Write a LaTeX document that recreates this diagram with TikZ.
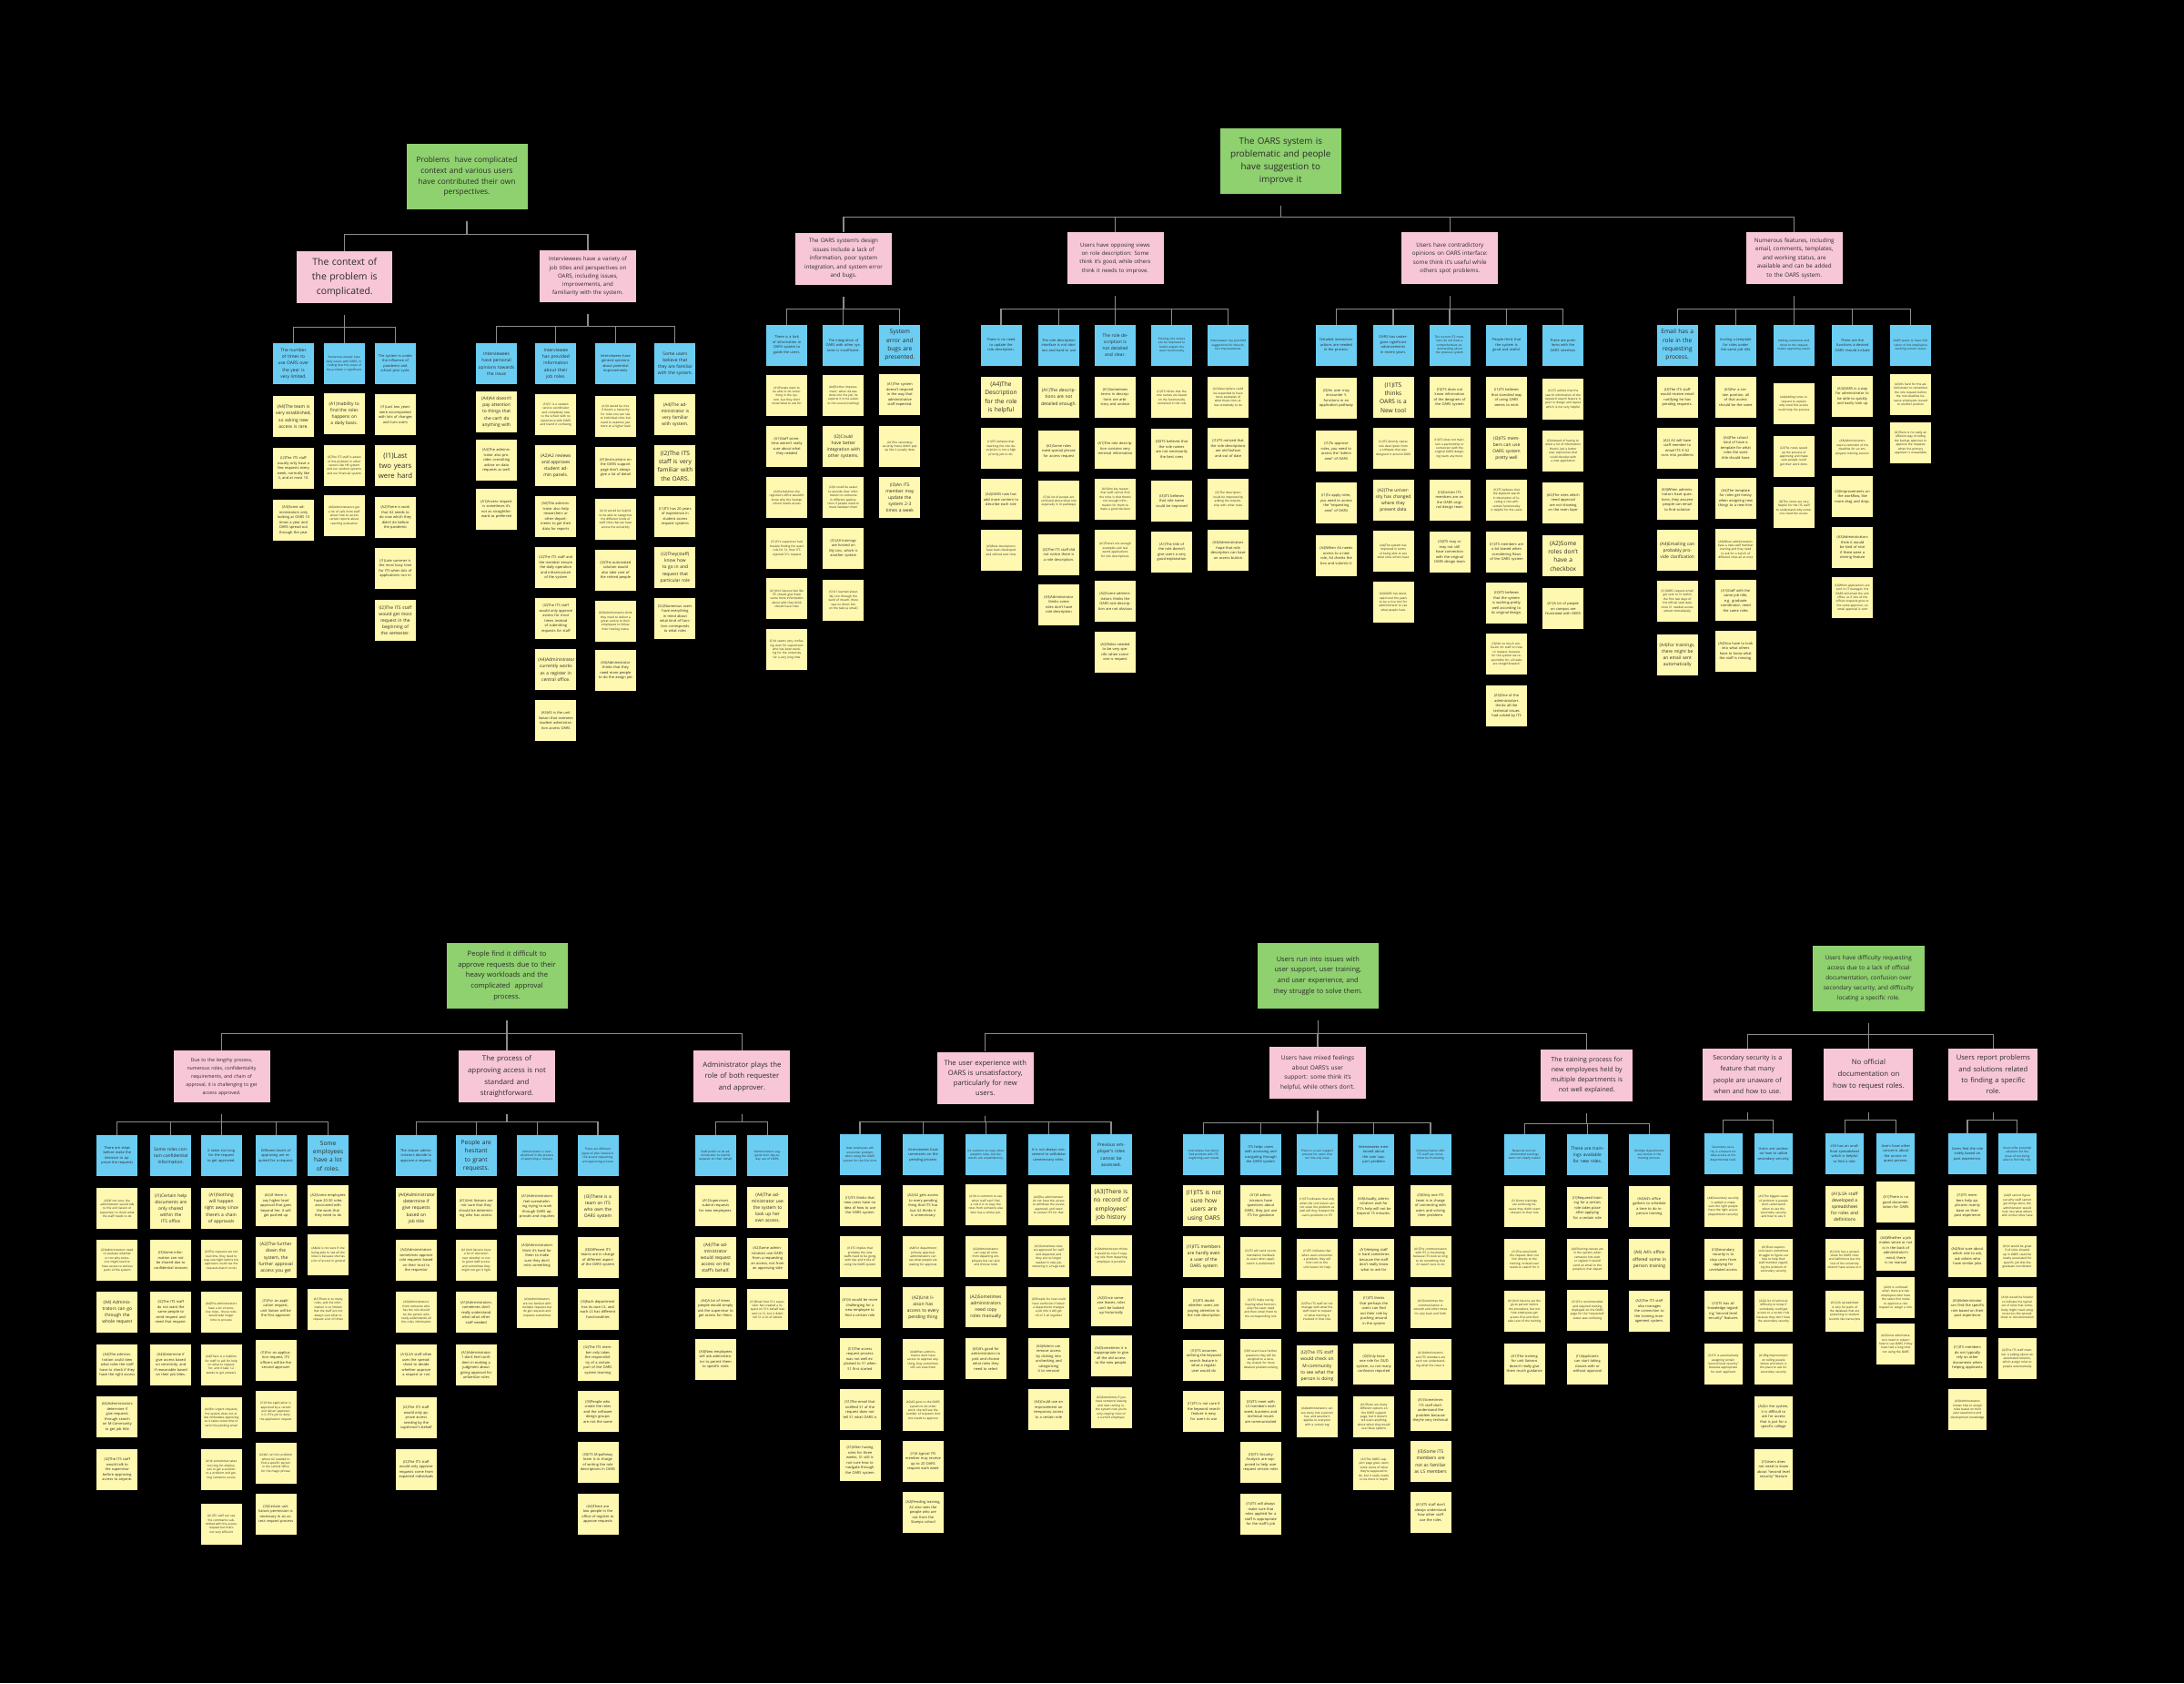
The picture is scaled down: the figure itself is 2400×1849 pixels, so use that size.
\documentclass[tikz,border=0pt]{standalone}
\usepackage{fontspec}
\setmainfont{Open Sans}
\usetikzlibrary{calc}
\definecolor{gfill}{HTML}{8FD06F}
\definecolor{pfill}{HTML}{F7C7D7}
\definecolor{bfill}{HTML}{6CCDF3}
\definecolor{yfill}{HTML}{FFF8B0}
\definecolor{txt}{HTML}{2A2A2A}
\definecolor{lin}{HTML}{8C8C8C}
\newcommand\fs[2]{\fontsize{#1}{#2}\selectfont}
\newcommand\Y[5]{\node[ybox,#1] (#2) at (#3,#4) {#5};}
\newcommand\B[5]{\node[bbox,#1] (#2) at (#3,#4) {#5};}
\newcommand\conn[3]{\draw[conn] ($(#1.south)+(0,13)$) -- ($(#1.south)+(0,#3)$) -| (#2.north);}
\tikzset{
  box/.style={anchor=north, align=center, inner sep=2pt, text=txt},
  gbox/.style={box, fill=gfill, minimum width=133pt, minimum height=72pt, text width=127pt},
  pbox/.style={box, fill=pfill, minimum width=106pt, minimum height=57pt, text width=101pt},
  bbox/.style={box, fill=bfill, minimum width=45pt, minimum height=45pt, text width=40pt, inner sep=1.5pt},
  ybox/.style={box, fill=yfill, minimum width=45pt, minimum height=45pt, text width=39pt, inner sep=1.5pt},
  nar/.style={minimum width=42pt, text width=37pt},
  yt/.style={font=\fs{3.2}{4.4}},
  ys/.style={font=\fs{3.9}{5.5}},
  ym/.style={font=\fs{4.9}{7.1}},
  yb/.style={font=\fs{6.6}{9.3}},
  yx/.style={font=\fs{7.8}{10.6}},
  conn/.style={draw=lin, line width=1.1pt}
}
\begin{document}
\begin{tikzpicture}[x=1pt,y=-1pt]
\fill[black] (0,0) rectangle (2400,1849);
\useasboundingbox (0,0) rectangle (2400,1849);

%================ TOP LEFT =================
\node[gbox, font=\fs{8.3}{11.7}] (g1) at (513,158) {Problems\ \ have complicated\\context and various users\\have contributed their own\\perspectives.};
\node[pbox, minimum width=103pt, font=\fs{10.4}{15.6}] (p1) at (378.8,276) {The context of\\the problem is\\complicated.};
\node[pbox, font=\fs{6.1}{9.3}] (p2) at (646,275) {Interviewees have a variety of\\job titles and perspectives on\\OARS, including issues,\\improvements, and\\familiarity with the system.};
\conn{g1}{p1}{27}\conn{g1}{p2}{27}

\B{ym}{tl1}{322.5}{377}{The number of times to use OARS over the year is very limited.}
\B{yt}{tl2}{378.3}{377}{Numerous people have daily issues with OARS, including that the scope of the problem is significant.}
\B{ys}{tl3}{434.5}{377}{The system is under the influence of pandemic and school year cycle.}
\B{ym}{tl4}{545.6}{377}{Interviewees have personal opinions towards the issue}
\B{ym}{tl5}{610.8}{377}{Interviewee has provided information about their job roles.}
\B{ys}{tl6}{676.4}{377}{Interviewees have general opinions about potential improvements}
\B{ym}{tl7}{741.9}{377}{Some users believe that they are familiar with the system.}
\foreach \c in {tl1,tl2,tl3}{\conn{p1}{\c}{26}}
\foreach \c in {tl4,tl5,tl6,tl7}{\conn{p2}{\c}{26}}

\Y{ym}{tl1n1}{322.5}{435}{(A4)The team is very established, so asking new access is rare.}
\Y{ys}{tl1n2}{322.5}{492}{(I2)The ITS staff usually only have a few requests every week, normally like 3, and at most 10.}
\Y{ys}{tl1n3}{322.5}{549}{(A3)Some administrators only looking at OARS 10 times a year and OARS spread out through the year}
\Y{ym}{tl2n1}{378.3}{432}{(A1)Inability to find the roles happens on a daily basis.}
\Y{yt}{tl2n2}{378.3}{489}{(I2)The ITS staff is aware of the problem in other sectors like HR system and our student systems and our financial system}
\Y{yt}{tl2n3}{378.3}{544}{(A6)Administrators get a lot of calls from staff about how to access certain reports about teaching evaluation}
\Y{ys}{tl3n1}{434.5}{433}{(I1)Last two years were accompanied with lots of changes and turn overs}
\Y{yx}{tl3n2}{434.5}{489}{(I1)Last two years were hard}
\Y{ys}{tl3n3}{434.5}{546}{(A2)There is work that A2 needs to do now which they didn't do before the pandemic}
\Y{ys}{tl3n4}{434.5}{602}{(I1)Late summer is the most busy time for ITS when lots of applications run in}
\Y{ym}{tl3n5}{434.5}{659}{(I2)The ITS staff would get most request in the beginning of the semester.}
\Y{ym}{tl4n1}{545.6}{430}{(A4)A4 doesn't pay attention to things that she can't do anything with}
\Y{ys}{tl4n2}{545.6}{483}{(A4)The administrator also provides consulting advice on data requests as well.}
\Y{ys}{tl4n3}{545.6}{537}{(A1)Access request is sometimes it's not as straightforward as preferred}
\Y{yt}{tl5n1}{610.8}{433}{(S1)S1 is a student service coordinator and completely new to the school with no experience with OARS and found it confusing}
\Y{ym}{tl5n2}{610.8}{489}{(A2)A2 reviews and approves student admin panels.}
\Y{ys}{tl5n3}{610.8}{545}{(A6)The administrator also help researchers or other departments to get their data for reports}
\Y{ys}{tl5n4}{610.8}{601}{(I2)The ITS staff and the member ensure the daily operation and infrastructure of the system}
\Y{ys}{tl5n5}{610.8}{657}{(I2)The ITS staff would only approve access for most times instead of submitting requests for staff}
\Y{ym}{tl5n6}{610.8}{713}{(A4)Administrator currently works as a register in central office.}
\Y{ys}{tl5n7}{610.8}{769}{(A5)A5 is the unit liaison that oversees student administration access OARS}
\Y{yt}{tl6n1}{676.4}{435}{(A1)It would be nice if there's a hierarchy for roles one can see at individual roles but need to examine just more at a higher level}
\Y{ys}{tl6n2}{676.4}{491}{(A1)Instructions on the OARS support page don't always give a lot of detail}
\Y{yt}{tl6n3}{676.4}{548}{(A1)It would be helpful to be able to categorize the different kinds of staff roles that we have across the university}
\Y{ys}{tl6n4}{676.4}{604}{(I2)The automated solution would also take care of the retired people}
\Y{yt}{tl6n5}{676.4}{660}{(A5)Administrators think they need to deliver a great service to their employees to follow their training status}
\Y{ys}{tl6n6}{676.4}{714}{(A3)Administrator thinks that they need more people to do the assign job}
\Y{ym}{tl7n1}{741.9}{433}{(A4)The administrator is very familiar with system.}
\Y{yb}{tl7n2}{741.9}{489}{(I2)The ITS staff is very familiar with the OARS.}
\Y{ys}{tl7n3}{741.9}{545}{(I1)ITS has 20 years of experience in student access request systems}
\Y{ym}{tl7n4}{741.9}{601}{(I2)They(staff) know how to go in and request that particular role}
\Y{ys}{tl7n5}{741.9}{657}{(S2)Numerous users have everything in mind about what kind of function corresponds to what roles}

%================ TOP RIGHT =================
\node[gbox, font=\fs{9.8}{14}] (g2) at (1407.3,140.3) {The OARS system is\\problematic and people\\have suggestion to\\improve it};
\node[pbox, font=\fs{6.2}{9.4}] (pa) at (927,255.3) {The OARS system's design\\issues include a lack of\\information, poor system\\integration, and system error\\and bugs.};
\node[pbox, font=\fs{6}{9.4}] (pb) at (1225.5,255) {Users have opposing views\\on role description: Some\\think it's good, while others\\think it needs to improve.};
\node[pbox, font=\fs{6.3}{9.4}] (pc) at (1593.3,255) {Users have contradictory\\opinions on OARS interface:\\some think it's useful while\\others spot problems.};
\node[pbox, font=\fs{6.3}{9.4}] (pd) at (1971.7,255) {Numerous features, including\\email, comments, templates,\\and working status, are\\available and can be added\\to the OARS system.};
\foreach \c in {pa,pb,pc,pd}{\conn{g2}{\c}{26}}

\B{ys}{a1}{864.6}{356.5}{There is a lack of information in OARS system to guide the users.}
\B{ys}{a2}{926.8}{356.5}{The integration of OARS with other systems is insufficient.}
\B{yb}{a3}{988.8}{356.5}{System error and bugs are presented.}
\B{ys}{b1}{1100}{356.5}{There is no need to update the role description.}
\B{ys}{b2}{1163.5}{356.5}{The role description interface is not obvious and hard to use}
\B{ym}{b3}{1225.5}{356.5}{The role description is not detailed and clear.}
\B{yt}{b4}{1287.6}{356.5}{Existing role names can be improved to better explain the users functionality}
\B{yt}{b5}{1349.6}{356.5}{Interviewees has provided suggestions for description improvements.}
\B{ys}{c1}{1468.4}{356.5}{Detailed interaction actions are needed in the process.}
\B{ys}{c2}{1531}{356.5}{OARS has undergone significant advancements in recent years.}
\B{yt}{c3}{1593}{356.5}{The current ITS members do not have a comprehensive understanding about the previous system}
\B{ys}{c4}{1655.5}{356.5}{People think that the system is good and useful.}
\B{ys}{c5}{1717.7}{356.5}{There are problems with the OARS interface.}
\B{yb}{d1}{1843.2}{356.5}{Email has a role in the requesting process.}
\B{ys}{d2}{1907.3}{356.5}{Inviting a template for roles under the same job title}
\B{yt}{d3}{1971.2}{356.5}{Adding comments and notes to the request makes approving easier}
\B{ys}{d4}{2035.6}{356.5}{There are the functions a desired OARS should include}
\B{yt}{d5}{2099.6}{356.5}{OARS wants to have indication of the employee's working current status}
\foreach \c in {a1,a2,a3}{\conn{pa}{\c}{27}}
\foreach \c in {b1,b2,b3,b4,b5}{\conn{pb}{\c}{27}}
\foreach \c in {c1,c2,c3,c4,c5}{\conn{pc}{\c}{27}}
\foreach \c in {d1,d2,d3,d4,d5}{\conn{pd}{\c}{27}}

\Y{yt}{a1n1}{864.6}{412}{(A1)People want to be able to do something in the system, but they don't know what to ask for}
\Y{ys}{a1n2}{864.6}{468}{(A1)Staff sometime weren't really sure about what they needed}
\Y{yt}{a1n3}{864.6}{524}{(A2)Sometimes the registrar's office wouldn't know why the Stamps school needs access}
\Y{yt}{a1n4}{864.6}{580}{(S1)S1's supervisor had trouble finding the exact role for S1, then ITS rejected S1's request}
\Y{yt}{a1n5}{864.6}{635}{(A1)Unit liaisons feel like ITS should give them some more information about who they think should have roles}
\Y{yt}{a1n6}{864.6}{691}{(S1)It seems very confusing even for supervisors who has been working for the university for a very long time}
\Y{yt}{a2n1}{926.8}{412}{(A4)Further improvement: when A4 was done into the job, he expects it to be easier to the course (training)}
\Y{ym}{a2n2}{926.8}{468}{(I2)Could have better integration with other systems.}
\Y{yt}{a2n3}{926.8}{524}{(I2)It could be easier to provide clear information to someone in different applications if people need to move between them}
\Y{ys}{a2n4}{926.8}{580}{(S1)All trainings are hosted on My Linc, which is another system}
\Y{yt}{a2n5}{926.8}{637}{(S1)S1 learned about My Linc through the word of mouth, there was no direct link on the tabs (a email)}
\Y{ys}{a3n1}{988.8}{411}{(A1)The system doesn't respond in the way that administrative staff expected.}
\Y{yt}{a3n2}{988.8}{468}{(A1)The secondary security menu didn't pop up like it usually does}
\Y{ym}{a3n3}{988.8}{524}{(I3)An ITS member may update the system 2-3 times a week}
\Y{yb}{b1n1}{1100}{414}{(A4)The Description for the role is helpful}
\Y{yt}{b1n2}{1100}{470}{(I1)ITS believes that rewriting the role description is not a high priority job to do.}
\Y{ys}{b1n3}{1100}{526}{(A2)OARS now has add more content to describe each role}
\Y{yt}{b1n4}{1100}{582}{(A3)Role descriptions have been developed and refined over time}
\Y{ym}{b2n1}{1163.5}{414}{(A1)The descriptions are not detailed enough.}
\Y{ys}{b2n2}{1163.5}{473}{(A2)Some roles need special phrase for access request}
\Y{yt}{b2n3}{1163.5}{528}{(S1)A lot of people are confused about what role especially in IU pathways}
\Y{ys}{b2n4}{1163.5}{587}{(I2)The ITS staff did not notice there is a role description.}
\Y{ys}{b2n5}{1163.5}{642}{(A3)Administrator thinks some roles don't have role description}
\Y{ys}{b3n1}{1225.5}{414}{(A1)Sometimes terms in descriptions are arbitrary and unclear}
\Y{ys}{b3n2}{1225.5}{470}{(A1)The role description contains very minimal information}
\Y{yt}{b3n3}{1225.5}{526}{(A1)One key reason that staff cannot find the roles is that there's not enough information for them to make a good decision}
\Y{yt}{b3n4}{1225.5}{582}{(A1)There's not enough examples and real world applications for role descriptions.}
\Y{ys}{b3n5}{1225.5}{638}{(A2)Some administrators thinks the OARS role description are not obvious}
\Y{ys}{b3n6}{1225.5}{694}{(A2)Roles needed to be very specific when someone is request}
\Y{yt}{b4n1}{1287.6}{414}{(I1)ITS thinks that the role names are based on the functionality contained in the role}
\Y{ys}{b4n2}{1287.6}{471}{(I3)ITS believes that the role names are not necessarily the best ones}
\Y{ys}{b4n3}{1287.6}{528}{(I3)ITS believes that role name could be improved}
\Y{ys}{b4n4}{1287.6}{584}{(A1)The title of the role doesn't give users a very good explanation}
\Y{yt}{b5n1}{1349.6}{414}{(A1)Descriptions could be expanded to have more examples of what these roles allow somebody to do}
\Y{ys}{b5n2}{1349.6}{470}{(I1)ITS noticed that the role descriptions are old fashion and out of date}
\Y{yt}{b5n3}{1349.6}{526}{(I2)The description could be improved by adding the relationship with other roles}
\Y{ys}{b5n4}{1349.6}{582}{(A3)Administrators hope that role description can have an access button}
\Y{ys}{c1n1}{1468.4}{415}{(I3)An user may encounter 5 functions in an application pathway}
\Y{ys}{c1n2}{1468.4}{473}{(I1)To approve roles, you need to access the ``admin area'' of OARS}
\Y{ys}{c1n3}{1468.4}{530}{(I1)To apply roles, you need to access the ``requesting area'' of OARS}
\Y{ys}{c1n4}{1468.4}{588}{(A4)When A4 needs access to a new role, A4 checks the box and submits it}
\Y{yb}{c2n1}{1531}{414}{(I1)ITS thinks OARS is a New tool}
\Y{yt}{c2n2}{1531}{470}{(I1)ITS directly copies role description from a software that was designed in around 2000}
\Y{ym}{c2n3}{1531}{527}{(A2)The university has changed where they present data}
\Y{yt}{c2n4}{1531}{583}{(A4)The system has improved in terms of being able to see what roles others have}
\Y{yt}{c2n5}{1531}{639}{(A3)OARS has developed over the years to be a nice tool for administrator to see what people have}
\Y{ys}{c3n1}{1593}{414}{(I1)ITS does not know information of the designers of the OARS system}
\Y{yt}{c3n2}{1593}{470}{(I1)ITS does not maintain a partnership or connection with the original OARS designing team any more}
\Y{ys}{c3n3}{1593}{527}{(I3)Certain ITS members are on the OARS original design team}
\Y{ys}{c3n4}{1593}{584}{(I3)ITS may or may not still have connection with the original OARS design team}
\Y{ys}{c4n1}{1655.5}{414}{(I1)ITS believes that standard way of using OARS seems to exist}
\Y{ym}{c4n2}{1655.5}{470}{(I3)ITS members can use OARS system pretty well}
\Y{yt}{c4n3}{1655.5}{527}{(I1)ITS believes that the keyword search in description of locating a role with certain functionality is helpful for the users}
\Y{ys}{c4n4}{1655.5}{584}{(I1)ITS members are a bit biased when considering flaws of the OARS system}
\Y{ys}{c4n5}{1655.5}{640}{(I3)ITS believes that the system is working pretty well according to its original design.}
\Y{yt}{c4n6}{1655.5}{696}{(I2)Not so much confusion for staff on how to request, because for the system we responsible for, all tasks are straightforward.}
\Y{ys}{c4n7}{1655.5}{753}{(A3)One of the administrators thinks all the technical issues had solved by ITS}
\Y{yt}{c5n1}{1717.7}{416}{(I1)ITS admits that the search information of the keyword search feature is poor in design and layout which is not very helpful}
\Y{yt}{c5n2}{1717.7}{473}{(I3)Instead of having to enter a lot of information there's just a better user experience that could develop with a new application}
\Y{ys}{c5n3}{1717.7}{530}{(A2)The roles which need approval are not showing on the main layer}
\Y{yb}{c5n4}{1717.7}{588}{(A2)Some roles don't have a checkbox}
\Y{ys}{c5n5}{1717.7}{646}{(A1)A lot of people on campus are frustrated with OARS}
\Y{ys}{d1n1}{1843.2}{414}{(I2)The ITS staff would receive email notifying he has pending requests.}
\Y{ys}{d1n2}{1843.2}{470}{(A2) A2 will have staff member to email ITS if A2 runs into problems}
\Y{ys}{d1n3}{1843.2}{526}{(A3)When administrators have questions, they assume people can email to find solution}
\Y{ym}{d1n4}{1843.2}{582}{(A4)Emailing can probably provide clarification}
\Y{yt}{d1n5}{1843.2}{638}{(S1)OARS request email got sent to S1 within the first two days of the official start date since S1 needed access almost immediately}
\Y{ym}{d1n6}{1843.2}{697}{(A4)For trainings, there might be an email sent automatically}
\Y{ys}{d2n1}{1907.3}{414}{(A3)For a certain position, all of that access should be the same}
\Y{ys}{d2n2}{1907.3}{469}{(A4)The school kind of have a template for what roles the work title should have}
\Y{ys}{d2n3}{1907.3}{525}{(A4)The template for roles get messy when assigning new things to a new hire.}
\Y{yt}{d2n4}{1907.3}{581}{(A2)When administrators have a new staff member starting and they need to ask for a bunch of different roles all at once}
\Y{ys}{d2n5}{1907.3}{637}{(A1)Staff with the same job title, e.g. graduate coordinator, need the same roles}
\Y{ys}{d2n6}{1907.3}{693}{(A4)You have to look into what others have to know what the staff is missing.}
\Y{yt}{d3n1}{1971.2}{421}{(A4)Adding notes to request to explain why need this access could help the process}
\Y{yt}{d3n2}{1971.2}{479}{(I2)The notes speed up the process of approving and make sure people could get their work done}
\Y{yt}{d3n3}{1971.2}{535}{(I2)The notes are very helpful for the ITS staff to understand why someone need the access}
\Y{ys}{d4n1}{2035.6}{413}{(A3)OARS is a way for administrator to be able to quickly and easily look up}
\Y{yt}{d4n2}{2035.6}{469}{(A3)Administrators need a reminder of the deadline for an employee's training session}
\Y{ys}{d4n3}{2035.6}{523}{(I2)Improvements on the workflow, like more drag and drop.}
\Y{ys}{d4n4}{2035.6}{579}{(A3)Administrators think it would be kind of nice if there were a cloning feature}
\Y{yt}{d4n5}{2035.6}{634}{(I2)When applications are sent to IT manager, the OARS will email the unit office, so if one of the offices requests goes to the same approver, an email approval is sent}
\Y{yt}{d5n1}{2099.6}{411}{(A3)It's hard for the administrator to remember the role request before the role deadline because employees moved to another position}
\Y{yt}{d5n2}{2099.6}{464}{(I2)There is no really an efficient way of telling the backup approver to approve the requests when the primary approver is unavailable}

%================ BOTTOM LEFT =================
\node[gbox, font=\fs{7.6}{11.8}] (g3) at (557,1035.7) {People find it difficult to\\approve requests due to their\\heavy workloads and the\\complicated\ \ approval\\process.};
\node[pbox, font=\fs{5.2}{9}] (e1) at (243.5,1154) {Due to the lengthy process,\\numerous roles, confidentiality\\requirements, and chain of\\approval, it is challenging to get\\access approved.};
\node[pbox, font=\fs{7.8}{12.6}] (e2) at (557,1154) {The process of\\approving access is not\\standard and\\straightforward.};
\node[pbox, font=\fs{7.8}{12.6}] (e3) at (815.4,1154) {Administrator plays the\\role of both requester\\and approver.};
\foreach \c in {e1,e2,e3}{\conn{g3}{\c}{27}}

\B{ys}{e1a}{128.8}{1247}{There are steps before make the decision to approve the requests}
\B{ym}{e1b}{187.7}{1247}{Some roles contain confidential information.}
\B{ys}{e1c}{243.2}{1247}{It takes too long for the request to get approved.}
\B{ys}{e1d}{303.1}{1247}{Different levels of approving are required for a request.}
\B{yb}{e1e}{360.6}{1247}{Some employees have a lot of roles.}
\B{ys}{e2a}{457.4}{1247}{The reason administrators decide to approve a request.}
\B{yb}{e2b}{523.2}{1247}{People are hesitant to grant requests.}
\B{yt}{e2c}{590.2}{1247}{Administrator is overwhelmed in the process of approving a request.}
\B{yt}{e2d}{657}{1247}{There are different types of jobs involve in the access requesting and approving process}
\B{yt}{e3a}{786.4}{1247}{Staff prefer to let administrator to submit requests on their behalf.}
\B{yt}{e3b}{843.4}{1247}{Administrators suggests their day-to-day use of OARS.}
\foreach \c in {e1a,e1b,e1c,e1d,e1e}{\conn{e1}{\c}{21}}
\foreach \c in {e2a,e2b,e2c,e2d}{\conn{e2}{\c}{21}}
\foreach \c in {e3a,e3b}{\conn{e3}{\c}{21}}

\Y{yt}{e1an1}{128.8}{1305}{(A3)If not sure, the administrator would talk to the unit liaison or supervisor to check what the staff needs to do}
\Y{yt}{e1an2}{128.8}{1362}{(I2)Administrators need to evaluate whether or not why someone might need to have access to various parts of the system}
\Y{ym}{e1an3}{128.8}{1419}{(A4) Administrators can go through the whole request}
\Y{ys}{e1an4}{128.8}{1477}{(A4)The administration could view what roles the staff have to check if they have the right access}
\Y{ys}{e1an5}{128.8}{1534}{(A4)Administrators determine if give requests through search on M-Community to get job title}
\Y{ys}{e1an6}{128.8}{1592}{(I2)The ITS staff would talk to the supervisor before approving access to anyone.}
\Y{ym}{e1bn1}{187.7}{1305}{(I1)Certain help documents are only shared within the ITS office}
\Y{ys}{e1bn2}{187.7}{1362}{(I3)Some information can not be shared due to confidential reasons}
\Y{ys}{e1bn3}{187.7}{1419}{(I2)The ITS staff do not want the same people to send request and need that request.}
\Y{ys}{e1bn4}{187.7}{1477}{(A4)Determine if give access based on sensitivity, and if reasonable based on their job titles.}
\Y{ym}{e1cn1}{243.2}{1305}{(A1)Nothing will happen right away since there's a chain of approvals}
\Y{yt}{e1cn2}{243.2}{1362}{(I2)The requests are not real time, they need to stay overnight before the approvers could see the requests (batch circle)}
\Y{yt}{e1cn3}{243.2}{1419}{(A4)The administrators have a lot of sensitive roles - those roles would take longer time to process}
\Y{yt}{e1cn4}{243.2}{1477}{(A4)There is a helpline for staff to ask for help on what to request for, and it take 1-2 weeks to get answers}
\Y{yt}{e1cn5}{243.2}{1535}{(A4)For urgent requests, the system does not allow immediate approving so it takes some time to send the pending email}
\Y{yt}{e1cn6}{243.2}{1592}{(A1)It sometimes takes too long for employees to get a solution to a problem and getting someone access}
\Y{yt}{e1cn7}{243.2}{1652}{(A1)ITS staff can see the comments submitted with the access request but that's not very efficient}
\Y{ys}{e1dn1}{303.1}{1302}{(A2)If there is any higher level approval that goes beyond her, it will get pushed up}
\Y{ym}{e1dn2}{303.1}{1359}{(A2)The further down the system, the further approval access you get}
\Y{ys}{e1dn3}{303.1}{1415}{(I1)For an application request, unit liaison will be the first approver}
\Y{ys}{e1dn4}{303.1}{1472}{(I1)For an application request, ITS officers will be the second approver}
\Y{yt}{e1dn5}{303.1}{1528}{(I1)If the application is approved by a certain unit liaison approver, it is ITS's job to deny the application request}
\Y{yt}{e1dn6}{303.1}{1585}{(A2)A2 ran into problem where A2 needed to find a specific person in the central office for the magic phrase}
\Y{ys}{e1dn7}{303.1}{1641}{(I3)Certain unit liaison permission is necessary in an access request process}
\Y{ys}{e1en1}{360.6}{1302}{(A2)Some employees have 20-30 roles associated with the work that they need to do}
\Y{yt}{e1en2}{360.6}{1356}{(A4)A4 is not sure if she being able to see all the roles is because she has a lot of access in general}
\Y{yt}{e1en3}{360.6}{1416}{(A1)There is so many roles, and the information is so limited that the staff are not always sure what to request a lot of times}
\Y{ym}{e2an1}{457.4}{1305}{(A4)Administrator determine if give requests based on job title}
\Y{ys}{e2an2}{457.4}{1362}{(A2)Administrators sometimes approve role requests based on their trust to the requestor}
\Y{yt}{e2an3}{457.4}{1419}{(A2)Administrators think someone who has the role should be the person who really understands all this roles information}
\Y{ys}{e2an4}{457.4}{1477}{(A1)LSA staff often uses the spreadsheet to decide whether approve a request or not}
\Y{ys}{e2an5}{457.4}{1535}{(I2)The ITS staff would only approve access sending by the supervisor's behalf}
\Y{ys}{e2an6}{457.4}{1592}{(I2)The ITS staff would only approve requests come from expected individuals}
\Y{ys}{e2bn1}{523.2}{1305}{(A1)Unit liaisons are not sure that they should be determining who has access.}
\Y{yt}{e2bn2}{523.2}{1362}{(A1)Unit liaisons have a lot of discretion over whether or not to grant staff access and sometimes they might not get it right}
\Y{ys}{e2bn3}{523.2}{1419}{(A1)Administrators sometimes don't really understand what what other staff needed}
\Y{ys}{e2bn4}{523.2}{1477}{(A1)Administrator 1 don't feel confident in making a judgment about giving approval for unfamiliar roles}
\Y{ys}{e2cn1}{590.2}{1303}{(A1)Administrators feel overwhelming trying to work through OARS approvals and inquiries}
\Y{ys}{e2cn2}{590.2}{1357}{(A3)Administrators think it's hard for them to make sure they don't miss something}
\Y{yt}{e2cn3}{590.2}{1414}{(A3)Administrators are not familiar with multiple requests but do get requests and requests sometimes}
\Y{ym}{e2dn1}{657}{1303}{(I3)There is a team on ITS who own the OARS system}
\Y{ys}{e2dn2}{657}{1359}{(I3)Different ITS teams are in charge of different aspect of the OARS system}
\Y{ys}{e2dn3}{657}{1416}{(I3)Each department has its own LS, and each LS has different functionalities}
\Y{ys}{e2dn4}{657}{1472}{(I2)The ITS member only takes the responsibility of a certain part of the OARS system learning}
\Y{ys}{e2dn5}{657}{1528}{(I3)People who create the roles and the software design groups are not the same}
\Y{ys}{e2dn6}{657}{1584}{(I3)ITS M-pathway team is in charge of writing the role descriptions in OARS}
\Y{ys}{e2dn7}{657}{1641}{(A4)There are two people in the office of register to approve requests}
\Y{ys}{e3an1}{786.4}{1302}{(A1)Supervisors submit requests for new employees.}
\Y{ym}{e3an2}{786.4}{1359}{(A4)The administrator would request access on the staff's behalf.}
\Y{ys}{e3an3}{786.4}{1415}{(A4)A lot of times people would simply ask the supervisor to get access for them.}
\Y{ys}{e3an4}{786.4}{1471}{(A3)New employees will ask administrator to permit them to specific roles}
\Y{ym}{e3bn1}{843.4}{1304}{(A4)The administrator use the system to look up her own access.}
\Y{ys}{e3bn2}{843.4}{1360}{(A2)Some administrators use OARS from a requesting an access, not from an approving side}
\Y{yt}{e3bn3}{843.4}{1416}{(S1)Email that S1's supervisor has created a request on S1's behalf was sent to S1, but it didn't tell S1 a lot of details}

%================ BOTTOM MIDDLE =================
\node[gbox, font=\fs{7.4}{11.8}] (g4) at (1448.3,1035.7) {Users run into issues with\\user support, user training,\\and user experience, and\\they struggle to solve them.};
\node[pbox, font=\fs{7.6}{11}] (f1) at (1082.8,1155.3) {The user experience with\\OARS is unsatisfactory,\\particularly for new\\users.};
\node[pbox, font=\fs{6.5}{10.6}] (f2) at (1448,1150) {Users have mixed feelings\\about OARS's user\\support: some think it's\\helpful, while others don't.};
\node[pbox, minimum width=101pt, text width=97pt, font=\fs{7}{11.1}] (f3) at (1743.8,1152.7) {The training process for\\new employees held by\\multiple departments is\\not well explained.};
\foreach \c in {f1,f2,f3}{\conn{g4}{\c}{27}}

\B{yt}{f1a}{945}{1246}{New employees will encounter problem when using the OARS system for the first time}
\B{ys}{f1b}{1014.4}{1246}{Interviewees have comments on the pending process}
\B{yt}{f1c}{1083.3}{1246}{It's common to copy other people's roles, but the results are unsatisfactory.}
\B{ys}{f1d}{1152.3}{1246}{It is not always convenient to withdraw unnecessary roles.}
\B{ym}{f1e}{1221}{1246}{Previous employer's roles cannot be accessed.}
\B{yt}{f2a}{1322.8}{1246}{Interviewee has identified problem with ITS neglecting user needs}
\B{ys}{f2b}{1385.4}{1246}{ITS helps users with accessing and navigating through the OARS system}
\B{yt}{f2c}{1447.4}{1246}{There is a user support process for users that run into any issue}
\B{ys}{f2d}{1509.7}{1246}{Interviewees mentioned about the user support problem}
\B{yt}{f2e}{1572}{1246}{Communication with ITS staff can sometimes be frustrating}
\B{yt}{f3a}{1675.2}{1246}{Required and recommended trainings were not clearly stated}
\B{ym}{f3b}{1744.4}{1246}{There are trainings available for new roles.}
\B{yt}{f3c}{1812.4}{1246}{Multiple departments are involve in the training process.}
\foreach \c in {f1a,f1b,f1c,f1d,f1e}{\conn{f1}{\c}{20}}
\foreach \c in {f2a,f2b,f2c,f2d,f2e}{\conn{f2}{\c}{26}}
\foreach \c in {f3a,f3b,f3c}{\conn{f3}{\c}{24}}

\Y{ys}{f1an1}{945}{1302}{(I1)ITS thinks that new users have no idea of how to use the OARS system}
\Y{yt}{f1an2}{945}{1358}{(I1)ITS implies that probably the new staffs need to be going with tips and tricks of using the OARS system}
\Y{ys}{f1an3}{945}{1414}{(A1)It would be more challenging for a new employee to find a certain role}
\Y{ys}{f1an4}{945}{1470}{(S1)The access request process was not well explained to S1 when S1 first started}
\Y{ys}{f1an5}{945}{1526}{(S1)The email that notified S1 of the request does not tell S1 what OARS is}
\Y{ys}{f1an6}{945}{1582}{(S1)After having roles for three weeks, S1 still is not sure how to navigate through the OARS system}
\Y{ys}{f1bn1}{1014.4}{1302}{(A2)A2 gets access to every pending thing that ITS has but A2 thinks it is unnecessary}
\Y{yt}{f1bn2}{1014.4}{1358}{(A4)For department primary approval, administrators can see what people are waiting for approval}
\Y{ym}{f1bn3}{1014.4}{1414}{(A2)Unit liaison has access to every pending thing}
\Y{yt}{f1bn4}{1014.4}{1471}{(A4)When administrators don't have access to approve anything, they sometimes still can view them}
\Y{yt}{f1bn5}{1014.4}{1527}{(A2)A2 goes to the OARS system to do other work, she will see the number of requests that she needs to approve}
\Y{ys}{f1bn6}{1014.4}{1583}{(I1)A typical ITS member may receive up to 20 OARS request each week}
\Y{ys}{f1bn7}{1014.4}{1639}{(A2)Pending training, A2 also sees the people who are not from the Stamps school}
\Y{yt}{f1cn1}{1083.3}{1301}{(A1)It is common to see when staff can't find a role it is to copy the roles from someone else who has a similar job.}
\Y{yt}{f1cn2}{1083.3}{1358}{(A2)Administrators can copy all roles from departing employees but can pick and choose roles}
\Y{ym}{f1cn3}{1083.3}{1413}{(A2)Sometimes administrators need copy roles manually}
\Y{ys}{f1cn4}{1083.3}{1470}{(A3)It's good for administrators to pick and choose what roles they need to select}
\Y{yt}{f1dn1}{1152.3}{1301}{(A4)The administrator do not have the access to withdraw the access approved, and need to contact ITS for that}
\Y{yt}{f1dn2}{1152.3}{1358}{(A1)Sometimes roles are approved for staff and departed, and they are no longer needed in new job, removing is a huge task}
\Y{yt}{f1dn3}{1152.3}{1414}{(I2)People for now could have confusion if when a department changes a job title it will get rid of it all together}
\Y{ys}{f1dn4}{1152.3}{1470}{(A4)Admin can remove access by clicking into unchecking and categorizing it to removal}
\Y{ys}{f1dn5}{1152.3}{1526}{(A4)Could use an improvement on temporary access to a certain role}
\Y{yb}{f1en1}{1221}{1301}{(A3)There is no record of employees' job history}
\Y{yt}{f1en2}{1221}{1357}{(A3)Administrator thinks it would be nice if copying role from departing employee is possible}
\Y{ys}{f1en3}{1221}{1412}{(A2)Once someone leaves, roles can't be looked up historically}
\Y{ys}{f1en4}{1221}{1467}{(A4)Sometimes it is inappropriate to give all the old access to the new people.}
\Y{yt}{f1en5}{1221}{1524}{(A3)Sometimes if you have someone leaving and new coming in, the system now you're only copying roles of a current employee}
\Y{yb}{f2an1}{1322.8}{1302}{(I1)ITS is not sure how users are using OARS}
\Y{ym}{f2an2}{1322.8}{1358}{(I1)ITS members are hardly even a user of the OARS system}
\Y{ys}{f2an3}{1322.8}{1415}{(I3)ITS doubt whether users are paying attention to the role description}
\Y{ys}{f2an4}{1322.8}{1472}{(I1)ITS assumes utilizing the keyword search feature is what a regular user would do}
\Y{ys}{f2an5}{1322.8}{1528}{(I1)ITS is not sure if the keyword search feature is easy for users to use}
\Y{ys}{f2bn1}{1385.4}{1302}{(A1)If administrators have questions about OARS, they just use ITS for guidance}
\Y{yt}{f2bn2}{1385.4}{1359}{(I1)ITS will send recommendation feedback to users when application is problematic}
\Y{yt}{f2bn3}{1385.4}{1415}{(I1)ITS helps out by hearing what functionality the users need and then email them to the corresponding role}
\Y{yt}{f2bn4}{1385.4}{1471}{(I3)If users have further questions they will be assigned to a security analyst for more detailed problem-solving}
\Y{ys}{f2bn5}{1385.4}{1528}{(I3)ITS meet with LS members each week, business and technical issues are communicated}
\Y{ys}{f2bn6}{1385.4}{1584}{(I3)ITS Security Analysts are supposed to help user request certain roles}
\Y{ys}{f2bn7}{1385.4}{1641}{(I1)ITS will always make sure that roles applied for a staff is appropriate for the staff's job}
\Y{yt}{f2cn1}{1447.4}{1304}{(I1)ITS indicates that only when the unit liaison can not solve the problem as well will they forward the user's problems to ITS}
\Y{yt}{f2cn2}{1447.4}{1361}{(I1)ITS indicates that when users encounter a problem, they will first turn to the unit liaison for help}
\Y{yt}{f2cn3}{1447.4}{1418}{(I2)The ITS staff do not manage with what the staff need to request or what training is involved in that role.}
\Y{ym}{f2cn4}{1447.4}{1478}{(I2)The ITS staff would check on M-community to see what the person is doing}
\Y{yt}{f2cn5}{1447.4}{1534}{(A4)Administrators can see every role a person has, and assume it applies to everyone with a certain tag}
\Y{ys}{f2dn1}{1509.7}{1303}{(A3)Usually, administrators wait for ITS's help will not be beyond 15 minutes.}
\Y{ys}{f2dn2}{1509.7}{1361}{(A1)Helping staff is hard sometimes because the staff don't really know what to ask for}
\Y{ys}{f2dn3}{1509.7}{1418}{(I1)ITS thinks that perhaps the users can find out their role by pushing around in the system}
\Y{ys}{f2dn4}{1509.7}{1476}{(I2)Only have one role for OUD system, so not many confusion reported}
\Y{yt}{f2dn5}{1509.7}{1534}{(A1)There are many different options on the OARS support page, but it doesn't tell users anything about when they would use these options}
\Y{yt}{f2dn6}{1509.7}{1592}{(A1)The OARS support page gives users some sense of what they're supposed to do, but it really needs to be more in depth}
\Y{ys}{f2en1}{1572}{1302}{(I3)Only one ITS team is in charge of connecting with users and solving their problems}
\Y{yt}{f2en2}{1572}{1358}{(A1)The communication with ITS is frustrating, because ITS took so long to do something that A1 wasn't sure to do}
\Y{yt}{f2en3}{1572}{1414}{(A1)Sometimes the communication is smooth and other times it's very back and forth}
\Y{yt}{f2en4}{1572}{1471}{(A1)Administrators and ITS members are each not understanding what the issue is}
\Y{ys}{f2en5}{1572}{1527}{(A1)Sometimes ITS staff don't understand the problem because they're very technical}
\Y{ym}{f2en6}{1572}{1583}{(I3)Some ITS members are not as familiar as LS members}
\Y{ys}{f2en7}{1572}{1639}{(A1)ITS staff don't always understand how other staff use the roles}
\Y{yt}{f3an1}{1675.2}{1303}{(S1)Some trainings are confusing because they didn't seem relevant to their role}
\Y{yt}{f3an2}{1675.2}{1361}{(S1)The email with the request does not link directly to the training, instead user needs to search for it}
\Y{yt}{f3an3}{1675.2}{1418}{(A1)Unit liaisons are the go-to person before the procedure, but not how employees get access first and then take care of the training}
\Y{ys}{f3an4}{1675.2}{1476}{(A1)The training for unit liaisons doesn't really give them much guidance}
\Y{ys}{f3bn1}{1744.4}{1304}{(I1)Required training for a certain role takes place after applying for a certain role}
\Y{yt}{f3bn2}{1744.4}{1361}{(A4)Training classes are in the system, when someone hits start or register it would send an email to the people in that depart}
\Y{yt}{f3bn3}{1744.4}{1417}{(S1)S1's recommended and required training displayed on the OARS page for the ``requested'' status was confusing}
\Y{ys}{f3bn4}{1744.4}{1476}{(I1)Applicants can start taking classes with or without approval}
\Y{ys}{f3cn1}{1812.4}{1303}{(A4)A4's office gathers to schedule a time to do in-person training}
\Y{ym}{f3cn2}{1812.4}{1361}{(A4) A4's office offered some in person training}
\Y{ys}{f3cn3}{1812.4}{1418}{(A2)The ITS staff also manages the connection to the training management system.}

%================ BOTTOM RIGHT =================
\node[gbox, minimum width=123pt, text width=119pt, font=\fs{6.4}{11}] (g5) at (2053.3,1039) {Users have difficulty requesting\\access due to a lack of official\\documentation, confusion over\\secondary security, and difficulty\\locating a specific role.};
\node[pbox, minimum width=98pt, text width=94pt, font=\fs{7}{12.2}] (h1) at (1920.3,1151.7) {Secondary security is a\\feature that many\\people are unaware of\\when and how to use.};
\node[pbox, minimum width=98pt, text width=94pt, font=\fs{7.8}{13}] (h2) at (2053.4,1151.7) {No official\\documentation on\\how to request roles.};
\node[pbox, minimum width=98pt, text width=94pt, font=\fs{7.6}{12.2}] (h3) at (2190.4,1151.7) {Users report problems\\and solutions related\\to finding a specific\\role.};
\foreach \c in {h1,h2,h3}{\conn{g5}{\c}{25}}

\B{yt,nar}{g1a}{1893.6}{1245}{Secondary security is a feature for data access at the departmental level.}
\B{ys,nar}{g1b}{1948.9}{1245}{Users are unclear on how to utilize secondary security.}
\B{ys,nar}{g2a}{2027.1}{1245}{LSA has an unofficial spreadsheet which is helpful to find a role.}
\B{ys,nar}{g2b}{2083.3}{1245}{Users have other concerns about the access request process.}
\B{ys,nar}{g3a}{2162}{1245}{Users find the role solely based on past experience.}
\B{yt,nar}{g3b}{2216.7}{1245}{Users offer potential solutions for the issue of not being able to find the role.}
\foreach \c in {g1a,g1b}{\conn{h1}{\c}{21}}
\foreach \c in {g2a,g2b}{\conn{h2}{\c}{21}}
\foreach \c in {g3a,g3b}{\conn{h3}{\c}{21}}

\Y{yt,nar}{g1an1}{1893.6}{1303}{(A4)Secondary security is added to make sure the right people have the right access (department security)}
\Y{ys,nar}{g1an2}{1893.6}{1361}{(I3)Secondary security is to stop users from applying for unrelated access}
\Y{ys,nar}{g1an3}{1893.6}{1418}{(I1)ITS has all knowledge regarding ``second level security'' features}
\Y{yt,nar}{g1an4}{1893.6}{1476}{(I1)ITS is automatically assigning certain ``second level security'' features appropriate for each applicant}
\Y{yt,nar}{g1bn1}{1948.9}{1303}{(A1)The biggest cause of problem is people don't understand when to use the secondary security and how to use it}
\Y{yt,nar}{g1bn2}{1948.9}{1361}{(A1)Even supervisors/users sometimes struggle to figure out how to help their staff member regarding the problem of secondary security}
\Y{yt,nar}{g1bn3}{1948.9}{1418}{(A2)A lot of technical difficulty to know if somebody could get access to a certain role because they don't have the secondary security}
\Y{yt,nar}{g1bn4}{1948.9}{1476}{(A1)Big improvement on telling people where and when is the place to ask for secondary security}
\Y{ys,nar}{g1bn5}{1948.9}{1534}{(A2)In the system, it is difficult to ask for access that is just for a specific college}
\Y{ys,nar}{g1bn6}{1948.9}{1592}{(I1)Users does not need to know about ``second level security'' feature}
\Y{ym,nar}{g2an1}{2027.1}{1303}{(A1)LSA staff developed a spreadsheet for roles and definitions}
\Y{yt,nar}{g2an2}{2027.1}{1361}{(A1)LSA has a spreadsheet for OARS roles and definitions but the rest of the university doesn't have access to it}
\Y{yt,nar}{g2an3}{2027.1}{1418}{(A1)LSA spreadsheet is only for parts of the database that are pertaining to student records like transcripts}
\Y{ys,nar}{g2bn1}{2083.3}{1298}{(A1)There is no good documentation for OARS}
\Y{ys,nar}{g2bn2}{2083.3}{1351}{(A4)Whether a job makes sense or not is in the back of administrator's mind; there is no manual}
\Y{yt,nar}{g2bn3}{2083.3}{1403}{(A2)It is confused when there are two employees who have the same first name to approve a role request or assign a role.}
\Y{yt,nar}{g2bn4}{2083.3}{1454}{(A2)Some administrators need to relearn how to use OARS if they have had a long time not using the OARS}
\Y{ys,nar}{g3an1}{2162}{1302}{(I1)ITS members help applicants mainly base on their past experience}
\Y{ys,nar}{g3an2}{2162}{1358}{(A4)Not sure about which role to ask, ask others who have similar jobs}
\Y{ys,nar}{g3an3}{2162}{1415}{(A3)Administrator can find the specific role based on their past experience}
\Y{ys,nar}{g3an4}{2162}{1469}{(I1)ITS members do not typically rely on other documents when helping applicants}
\Y{yt,nar}{g3an5}{2162}{1526}{(A3)Administrators knows how to assign roles based on their past experience and development knowledge}
\Y{yt,nar}{g3bn1}{2216.7}{1302}{(A4)If cannot figure out why staff cannot get things done, the administrator would look into what others with similar titles have}
\Y{yt,nar}{g3bn2}{2216.7}{1358}{(A1)It would be great if all roles showed up in OARS could be neatly associated for specific job title like graduate coordinator}
\Y{yt,nar}{g3bn3}{2216.7}{1414}{(A1)It would be helpful to indicate the typical set of roles that somebody might need using resources like spreadsheet or documentation}
\Y{yt,nar}{g3bn4}{2216.7}{1470}{(I2)The ITS staff member is talking about an automated solution, which assign roles to people automatically}
\end{tikzpicture}
\end{document}
